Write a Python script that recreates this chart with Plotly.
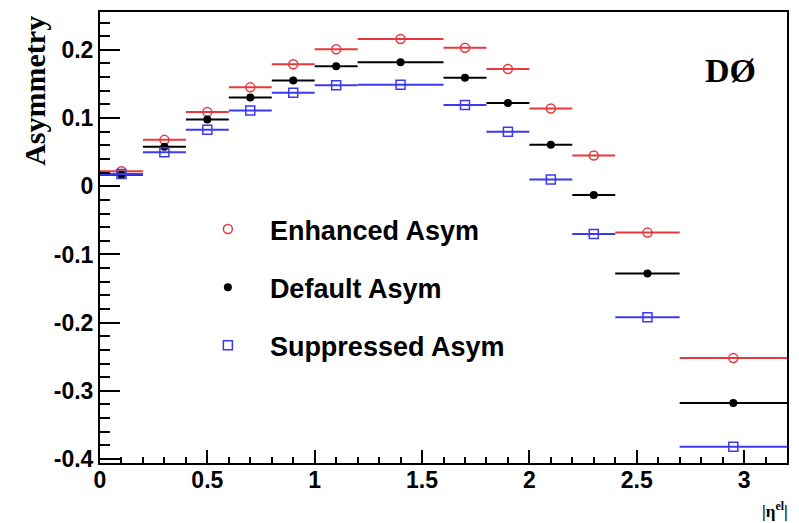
import plotly.graph_objects as go

bin_lo = [0.0, 0.2, 0.4, 0.6, 0.8, 1.0, 1.2, 1.6, 1.8, 2.0, 2.2, 2.4, 2.7]
bin_hi = [0.2, 0.4, 0.6, 0.8, 1.0, 1.2, 1.6, 1.8, 2.0, 2.2, 2.4, 2.7, 3.2]

enhanced = [0.022, 0.068, 0.109, 0.145, 0.179, 0.201, 0.216, 0.203, 0.172, 0.114, 0.045, -0.068, -0.252]
default = [0.017, 0.058, 0.098, 0.130, 0.155, 0.176, 0.182, 0.159, 0.122, 0.061, -0.013, -0.128, -0.318]
suppressed = [0.018, 0.050, 0.083, 0.111, 0.137, 0.148, 0.149, 0.119, 0.080, 0.010, -0.070, -0.192, -0.382]

series_names = ["Enhanced Asym", "Default Asym", "Suppressed Asym"]

y_tickvals = [-0.4, -0.3, -0.2, -0.1, 0, 0.1, 0.2]
y_ticktext = ["-0.4", "-0.3", "-0.2", "-0.1", "0", "0.1", "0.2"]
x_tickvals = [0, 0.5, 1, 1.5, 2, 2.5, 3]
x_ticktext = ["0", "0.5", "1", "1.5", "2", "2.5", "3"]

centers = [(a + b) / 2 for a, b in zip(bin_lo, bin_hi)]
halfw = [(b - a) / 2 for a, b in zip(bin_lo, bin_hi)]

RED = "#e8383d"
BLACK = "#000000"
BLUE = "#3a3af0"

styles = [
    (enhanced, RED, dict(symbol="circle-open", size=9, line=dict(width=1.5, color=RED), color=RED)),
    (default, BLACK, dict(symbol="circle", size=8, color=BLACK)),
    (suppressed, BLUE, dict(symbol="square-open", size=9, line=dict(width=1.5, color=BLUE), color=BLUE)),
]

fig = go.Figure()
for i, (vals, col, mk) in enumerate(styles):
    fig.add_trace(go.Scatter(
        x=centers, y=vals, mode="markers", name=series_names[i],
        legendgroup=str(i),
        marker=mk,
        error_x=dict(type="data", array=halfw, color=col, thickness=2, width=0, visible=True),
    ))

TICKFONT = "Liberation Sans Narrow, Arial Narrow, Liberation Sans, Arial, sans-serif"
SERIF = "Liberation Serif, Times New Roman, serif"

fig.update_layout(
    width=791, height=515,
    margin=dict(l=92, r=12, t=2, b=60),
    paper_bgcolor="white", plot_bgcolor="white",
    font=dict(family="Liberation Sans, Arial, sans-serif", color="black"),
    showlegend=True,
    legend=dict(x=0.125, y=0.572, xanchor="left", yanchor="top",
                bgcolor="rgba(0,0,0,0)",
                font=dict(size=27, family="Liberation Sans, Arial, sans-serif", weight="bold"),
                tracegroupgap=20, itemwidth=74),
    xaxis=dict(range=[0, 3.2], showgrid=False, zeroline=False,
               showline=True, linecolor="black", linewidth=2, mirror=True,
               ticks="inside", ticklen=13, tickwidth=2, tickcolor="black",
               tickvals=x_tickvals, ticktext=x_ticktext,
               ticklabelstandoff=-5,
               tickfont=dict(size=23, weight="bold", family=TICKFONT),
               minor=dict(ticks="inside", ticklen=6, dtick=0.1, tickwidth=1.5, tickcolor="black", tick0=0)),
    yaxis=dict(range=[-0.4058, 0.2555], showgrid=False, zeroline=False,
               showline=True, linecolor="black", linewidth=2, mirror=True,
               ticks="inside", ticklen=20, tickwidth=2, tickcolor="black",
               tickvals=y_tickvals, ticktext=y_ticktext,
               tickfont=dict(size=23, weight="bold", family=TICKFONT),
               minor=dict(ticks="inside", ticklen=10, dtick=0.02, tickwidth=1.5, tickcolor="black", tick0=0)),
    annotations=[
        dict(text="Asymmetry", xref="paper", yref="paper", x=-0.0946, y=0.996,
             xanchor="center", yanchor="top", textangle=-90, showarrow=False,
             font=dict(family=SERIF, size=30, weight="bold")),
        dict(text="DØ", xref="paper", yref="paper", x=0.918, y=0.870,
             xanchor="center", yanchor="middle", showarrow=False,
             font=dict(family=SERIF, size=34, weight="bold")),
        dict(text="|η<sup>el</sup>|", xref="paper", yref="paper", x=1.004, y=-0.1325,
             xanchor="right", yanchor="bottom", showarrow=False,
             font=dict(family=SERIF, size=17, weight="bold")),
    ],
)

fig.write_html("out.html")
